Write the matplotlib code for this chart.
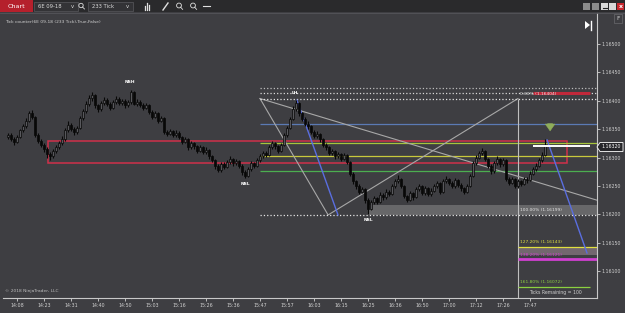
import numpy as np
import matplotlib
matplotlib.use('Agg')
import matplotlib.pyplot as plt
from matplotlib.patches import Rectangle, Polygon, Circle

# prices are kept in points above 1.16000 (340 -> 1.16340)
BASE = 1.16
PT = 1e-5

close_pts = [340, 333, 328, 337, 348, 356, 365, 378, 372, 340,
             330, 322, 315, 306, 302, 312, 318, 325, 333, 348,
             358, 350, 345, 352, 370, 382, 395, 405, 410, 392,
             385, 396, 402, 395, 388, 398, 404, 396, 400, 392,
             398, 415, 395, 398, 393, 388, 392, 380, 372, 378,
             365, 370, 345, 342, 346, 340, 344, 336, 328, 332,
             318, 326, 320, 312, 318, 310, 314, 302, 296, 285,
             278, 288, 284, 292, 298, 290, 294, 286, 275, 268,
             280, 290, 286, 295, 302, 308, 305, 318, 325, 320,
             312, 322, 340, 352, 368, 385, 396, 378, 368, 360,
             355, 345, 338, 342, 332, 322, 318, 308, 312, 302,
             306, 298, 304, 292, 272, 258, 250, 240, 244, 225,
             210, 222, 228, 222, 235, 230, 240, 236, 250, 258,
             262, 250, 232, 226, 238, 230, 244, 250, 238, 246,
             236, 242, 250, 255, 240, 258, 262, 255, 250, 260,
             252, 246, 240, 250, 268, 290, 300, 308, 312, 298,
             285, 276, 290, 298, 288, 296, 262, 256, 262, 250,
             258, 254, 262, 260, 272, 280, 286, 296, 305, 320]

high_pts = [344, 343, 336, 340, 351, 360, 370, 382, 384, 374,
            343, 333, 325, 318, 310, 315, 322, 329, 338, 352,
            364, 361, 354, 356, 374, 386, 399, 410, 415, 412,
            395, 400, 407, 405, 398, 402, 409, 407, 404, 403,
            402, 419, 417, 403, 401, 396, 397, 394, 383, 382,
            380, 374, 372, 349, 350, 348, 348, 346, 338, 337,
            334, 330, 328, 322, 322, 320, 318, 316, 305, 298,
            288, 292, 292, 296, 302, 300, 298, 296, 288, 278,
            284, 294, 293, 299, 306, 312, 311, 322, 330, 328,
            322, 326, 344, 356, 372, 390, 401, 398, 380, 371,
            364, 358, 348, 347, 344, 334, 325, 320, 316, 314,
            310, 308, 308, 306, 294, 275, 261, 253, 249, 246,
            228, 226, 232, 231, 239, 238, 244, 243, 254, 262,
            269, 264, 252, 235, 242, 240, 248, 254, 252, 250,
            248, 246, 254, 259, 257, 262, 268, 264, 258, 264,
            262, 255, 249, 254, 272, 294, 304, 312, 317, 314,
            300, 288, 294, 302, 300, 300, 298, 265, 266, 264,
            262, 261, 266, 265, 276, 284, 290, 300, 309, 333]

low_pts = [332, 330, 322, 326, 334, 345, 352, 362, 368, 336,
           325, 318, 310, 300, 296, 299, 308, 315, 322, 330,
           345, 346, 340, 342, 350, 367, 378, 391, 400, 388,
           380, 382, 392, 390, 384, 385, 394, 392, 392, 388,
           389, 395, 392, 390, 389, 383, 385, 376, 368, 369,
           361, 362, 342, 338, 339, 336, 337, 332, 324, 325,
           314, 315, 316, 308, 309, 306, 306, 298, 292, 280,
           274, 275, 280, 281, 289, 286, 287, 282, 270, 264,
           266, 277, 282, 283, 292, 299, 301, 302, 315, 316,
           308, 310, 320, 337, 350, 366, 382, 374, 364, 356,
           351, 341, 334, 335, 328, 318, 314, 304, 305, 298,
           299, 294, 295, 288, 268, 254, 245, 236, 237, 220,
           201, 207, 219, 218, 220, 226, 227, 232, 234, 247,
           255, 246, 228, 221, 223, 226, 228, 241, 234, 235,
           232, 233, 239, 247, 236, 238, 255, 251, 246, 247,
           248, 241, 236, 237, 248, 266, 287, 297, 304, 294,
           281, 272, 273, 287, 284, 285, 258, 252, 253, 246,
           247, 250, 251, 256, 258, 270, 277, 283, 293, 302]

first_open_pts = 336

time_labels = ['14:08', '14:23', '14:31', '14:40', '14:50', '15:03', '15:16',
               '15:26', '15:36', '15:47', '15:57', '16:03', '16:15', '16:25',
               '16:36', '16:50', '17:00', '17:12', '17:26', '17:47']
price_ticks = [1.16100, 1.16150, 1.16200, 1.16250, 1.16300,
               1.16350, 1.16400, 1.16450, 1.16500]
last_price = 1.16320

# fibonacci extension tool
fib_top = 404
fib_bottom = 199
fib_ratios = [0.0, 1.0, 1.272, 1.382, 1.618]
fib_colors = ['#e6e6e6', '#e6e6e6', '#e0e040', '#d040d0', '#8cd040']
fib_start_bar = 84
fib_label_bar = 170

# other horizontal drawing lines
hline_pts = [423, 414, 359, 325, 302, 277]
hline_colors = ['#bdbdbd', '#d9d9d9', '#5b7ab4', '#a6c43c', '#c8c83c', '#4cae50']
hline_styles = [':', ':', '-', '-', '-', '-']

zone_pts = (290, 329)
zone_bars = (13.3, 186.3)

swing_labels = [('NSH', 41, 'high'), ('NSL', 79, 'low'),
                ('LH', 96, 'high'), ('NSL', 120, 'low')]

# ---------------------------------------------------------------
bg = '#3e3e42'
fig = plt.figure(figsize=(6.25, 3.13), dpi=100, facecolor=bg)
ax = fig.add_axes([3 / 625, 15 / 313, 594 / 625, 285 / 313])
ax.set_facecolor(bg)

close = BASE + np.array(close_pts) * PT
high = BASE + np.array(high_pts) * PT
low = BASE + np.array(low_pts) * PT
opn = np.concatenate([[BASE + first_open_pts * PT], close[:-1]])
idx = np.arange(len(close))

ax.set_xlim(-5 / 3, 589 / 3)
ax.set_ylim(1.160528, 1.165546)
x_end = ax.get_xlim()[1]

# red zone
z0, z1 = BASE + zone_pts[0] * PT, BASE + zone_pts[1] * PT
ax.add_patch(Rectangle((zone_bars[0], z0), zone_bars[1] - zone_bars[0], z1 - z0,
                       fill=False, ec='#d0304a', lw=1.1, zorder=2))

# horizontal lines
for p, c, s in zip(hline_pts, hline_colors, hline_styles):
    ax.hlines(BASE + p * PT, fib_start_bar, x_end, colors=c, linestyles=s, lw=0.9, zorder=2)
ax.hlines(BASE + 414 * PT, 175, 194, colors='#c0283a', lw=2.2, zorder=3)

# fib levels
rng = fib_top - fib_bottom
for r, c in zip(fib_ratios, fib_colors):
    p = BASE + (fib_top - r * rng) * PT
    x0 = fib_start_bar if r <= 1 else fib_label_bar
    lw = 2.0 if r == 1.382 else 0.9
    ls = ':' if r <= 1 else '-'
    if r == 1.618:
        ax.hlines(p, x0, 194, colors=c, lw=lw, zorder=3)
    else:
        ax.hlines(p, x0, x_end, colors=c, lw=lw, linestyles=ls, zorder=3)
    ax.text(fib_label_bar + 0.5, p + 5 * PT, f'{r * 100:.2f}% ({p:.5f})', color=c,
            fontsize=3.2, va='bottom', ha='left', zorder=5)
ax.add_patch(Rectangle((120, BASE + 199 * PT), x_end - 120, 17 * PT,
                       color='#9a9a9a', alpha=0.45, lw=0, zorder=2))
ax.add_patch(Rectangle((fib_label_bar, BASE + 128 * PT), x_end - fib_label_bar, 15 * PT,
                       color='#b49aa8', alpha=0.45, lw=0, zorder=2))
ax.vlines(fib_label_bar, ax.get_ylim()[0], BASE + fib_top * PT, colors='#bfbfbf', lw=0.8, zorder=2)

# pattern lines
gl = '#a8a8a8'
ax.plot([84, 106.7, 170], [BASE + 404 * PT, BASE + 199 * PT, BASE + 404 * PT], color=gl, lw=0.8, zorder=2)
ax.plot([84, x_end], [BASE + 404 * PT, BASE + 225 * PT], color=gl, lw=0.8, zorder=2)
ax.plot([96.3, 110], [BASE + 401 * PT, BASE + 199 * PT], color='#5a6ee0', lw=1.0, zorder=4)
ax.plot([179.7, 193], [BASE + 331 * PT, BASE + 132 * PT], color='#5a6ee0', lw=1.0, zorder=4)

# candles
up = close >= opn
ax.vlines(idx, low, high, colors='#080808', lw=0.8, zorder=5)
body_lo = np.minimum(opn, close)
body_h = np.maximum(np.abs(close - opn), 0.8 * PT)
ax.bar(idx[up], body_h[up], bottom=body_lo[up], width=0.8, color='#58585c',
       edgecolor='#080808', linewidth=0.5, zorder=6)
ax.bar(idx[~up], body_h[~up], bottom=body_lo[~up], width=0.8, color='#080808',
       edgecolor='#080808', linewidth=0.5, zorder=6)

# current price marker and arrow
ax.hlines(last_price, 175, 194, colors='white', lw=1.4, zorder=7)
ax.annotate('', xy=(180.7, BASE + 342 * PT), xytext=(180.7, BASE + 365 * PT),
            arrowprops=dict(arrowstyle='simple,head_width=0.7,head_length=0.5,tail_width=0.35',
                            fc='#8fae5a', ec='#8fae5a', lw=0.3), zorder=7)

# swing labels
for name, i, side in swing_labels:
    if side == 'high':
        ax.annotate(name, (i, high[i]), xytext=(-1, 4), textcoords='offset points',
                    color='white', fontsize=3.2, fontweight='bold', ha='center', va='bottom')
    else:
        ax.annotate(name, (i, low[i]), xytext=(0, -3), textcoords='offset points',
                    color='white', fontsize=3.2, fontweight='bold', ha='center', va='top')

# axes styling
for s in ['top', 'left']:
    ax.spines[s].set_visible(False)
ax.spines['right'].set_color('#c8c8c8')
ax.spines['bottom'].set_color('#c8c8c8')
ax.spines['right'].set_linewidth(0.8)
ax.spines['bottom'].set_linewidth(0.8)
ax.yaxis.tick_right()
ax.set_yticks(price_ticks)
ax.set_yticklabels([f'{p:.5f}' for p in price_ticks])
ax.set_xticks(np.arange(3, 3 + 9 * len(time_labels), 9))
ax.set_xticklabels(time_labels)
ax.tick_params(colors='#d0d0d0', labelsize=3.4, length=2, width=0.6, pad=1.5)

ax.text(0.003, 0.02, '\u00a9 2018 NinjaTrader, LLC', transform=ax.transAxes,
        color='#bdbdbd', fontsize=3.2)
ax.text(0.975, 0.015, 'Ticks Remaining = 100', transform=ax.transAxes,
        color='#d0d0d0', fontsize=3.3, ha='right')
ax.text(0.003, 0.975, 'Tick counter(6E 09-18 (233 Tick),True,False)', transform=ax.transAxes,
        color='#d0d0d0', fontsize=3.2, va='top')

# window chrome in pixel coordinates
ov = fig.add_axes([0, 0, 1, 1], zorder=10)
ov.set_xlim(0, 625)
ov.set_ylim(313, 0)
ov.axis('off')
ov.patch.set_alpha(0)

ov.add_patch(Rectangle((0, 0), 625, 12, color='#2a2a2c', lw=0))
ov.plot([0, 625], [12.5, 12.5], color='#55555a', lw=0.6)
ov.add_patch(Rectangle((0, 0), 33, 12, color='#b5202c', lw=0))
ov.text(16, 6.5, 'Chart', color='white', fontsize=4.6, ha='center', va='center')
for x0, w, label in [(34, 44, '6E 09-18'), (88, 45, '233 Tick')]:
    ov.add_patch(Rectangle((x0, 2), w, 8.5, fc='#333336', ec='#5a5a5e', lw=0.5))
    ov.text(x0 + 4, 6.5, label, color='#dcdcdc', fontsize=3.8, va='center')
    ov.text(x0 + w - 6, 6.3, 'v', color='#dcdcdc', fontsize=3.8, va='center', ha='center')
ov.add_patch(Circle((81, 5.5), 2.2, fill=False, ec='#dcdcdc', lw=0.6))
ov.plot([82.5, 84.5], [7, 9], color='#dcdcdc', lw=0.6)
for xx, hh in [(145, 4), (147, 7), (149, 5)]:
    ov.plot([xx, xx], [10, 10 - hh], color='#e0e0e0', lw=0.9)
ov.plot([163, 168], [10, 3], color='#e0e0e0', lw=1.0)
for cx in [179, 193]:
    ov.add_patch(Circle((cx, 5.5), 2.4, fill=False, ec='#e0e0e0', lw=0.6))
    ov.plot([cx + 1.7, cx + 3.6], [7.2, 9.4], color='#e0e0e0', lw=0.6)
ov.plot([203, 210], [6, 6], color='#e0e0e0', lw=0.8)
for x0, c in [(583, '#8c8c8c'), (592, '#8c8c8c'), (601, '#d8d8d8'), (609, '#d8d8d8')]:
    ov.add_patch(Rectangle((x0, 2.5), 7, 7, color=c, lw=0))
ov.plot([602.5, 606.5], [8, 8], color='#222222', lw=0.8)
ov.add_patch(Rectangle((617, 2.5), 7, 7, color='#c8282e', lw=0))
ov.text(620.5, 6, 'x', color='white', fontsize=4.5, ha='center', va='center', fontweight='bold')

# end-of-chart icon and F button
ov.add_patch(Polygon([[585, 21], [585, 29], [590, 25]], color='white', lw=0))
ov.plot([591, 591], [20.5, 29.5], color='white', lw=1.0)
ov.add_patch(Rectangle((614, 14), 8, 9, fill=False, ec='#6a6a6e', lw=0.5))
ov.text(618, 18.5, 'F', color='#d0d0d0', fontsize=4.2, ha='center', va='center')

# price label on axis
y_lp = 147
ov.add_patch(Polygon([[597, y_lp], [600, y_lp - 4.5], [623, y_lp - 4.5], [623, y_lp + 4.5],
                      [600, y_lp + 4.5]], fc='#26262a', ec='white', lw=0.6))
ov.text(611.5, y_lp, f'{last_price:.5f}', color='white', fontsize=3.4, ha='center', va='center')

fig.savefig('out.png', dpi=100, facecolor=bg)
